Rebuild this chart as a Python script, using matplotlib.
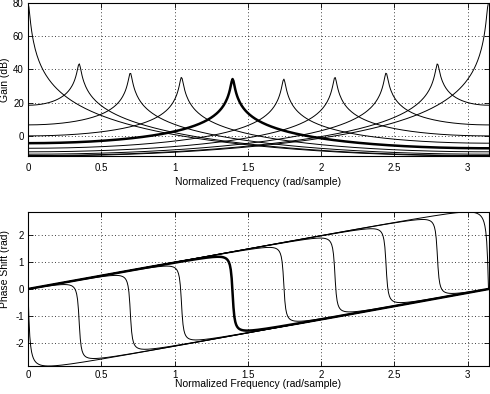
import numpy as np
import matplotlib
matplotlib.use("Agg")
import matplotlib.pyplot as plt

plt.rcParams['font.family'] = ['Liberation Sans', 'DejaVu Sans']
plt.rcParams['axes.unicode_minus'] = False

# Resonator centre frequencies read from the peaks (rad/sample)
center_freqs = [0.0, 0.349, 0.698, 1.047, 1.396, 1.745, 2.094, 2.443, 2.793, 3.1416]
pole_radius = 0.99          # gives the 80 dB peak at DC / Nyquist
highlight_index = 4          # bold curve at 1.4 rad/sample
n_points = 512

xticks = [0, 0.5, 1, 1.5, 2, 2.5, 3]
xtick_labels = ['0', '0.5', '1', '1.5', '2', '2.5', '3']
gain_ticks = [0, 20, 40, 60, 80]
phase_ticks = [-2, -1, 0, 1, 2]
xlabel = 'Normalized Frequency (rad/sample)'
gain_label = 'Gain (dB)'
phase_label = 'Phase Shift (rad)'

w = np.linspace(0, np.pi, n_points)
z1 = np.exp(-1j * w)
gains, phases = [], []
for wk in center_freqs:
    H = 1.0 / (1 - 2 * pole_radius * np.cos(wk) * z1 + pole_radius ** 2 * z1 ** 2)
    gains.append(20 * np.log10(np.abs(H)))
    phases.append(np.angle(H))

fig = plt.figure(figsize=(4.9, 3.94), dpi=100)
ax1 = fig.add_axes([28 / 490, 1 - 156 / 394, 460.5 / 490, 153.5 / 394])
ax2 = fig.add_axes([28 / 490, 1 - 366 / 394, 460.5 / 490, 154 / 394])

for i in range(len(center_freqs)):
    lw = 1.8 if i == highlight_index else 0.7
    ax1.plot(w, gains[i], color='black', lw=lw)
    ax2.plot(w, phases[i], color='black', lw=lw)

allg = np.concatenate(gains)
allp = np.concatenate(phases)
ax1.set_ylim(allg.min(), allg.max())
ax2.set_ylim(allp.min(), allp.max())
ax1.set_yticks(gain_ticks)
ax2.set_yticks(phase_ticks)

for ax, yl, lp in ((ax1, gain_label, 3), (ax2, phase_label, -1)):
    ax.set_xlim(0, w[-1])
    ax.set_xticks(xticks)
    ax.set_xticklabels(xtick_labels)
    ax.grid(True, linestyle=(0, (1, 3)), color='black', lw=0.6)
    ax.tick_params(direction='in', length=3.5, width=0.6, labelsize=7,
                   top=True, right=True)
    ax.tick_params(axis='x', pad=5 if lp > 0 else 3)
    ax.tick_params(axis='y', pad=3)
    for s in ax.spines.values():
        s.set_linewidth(0.8)
    ax.set_xlabel(xlabel, fontsize=7.5, labelpad=lp)
    ax.set_ylabel(yl, fontsize=7.5)

ax1.yaxis.set_label_coords(-0.040, 0.5)
ax2.yaxis.set_label_coords(-0.040, 0.63)

fig.savefig('out.png', dpi=100)
